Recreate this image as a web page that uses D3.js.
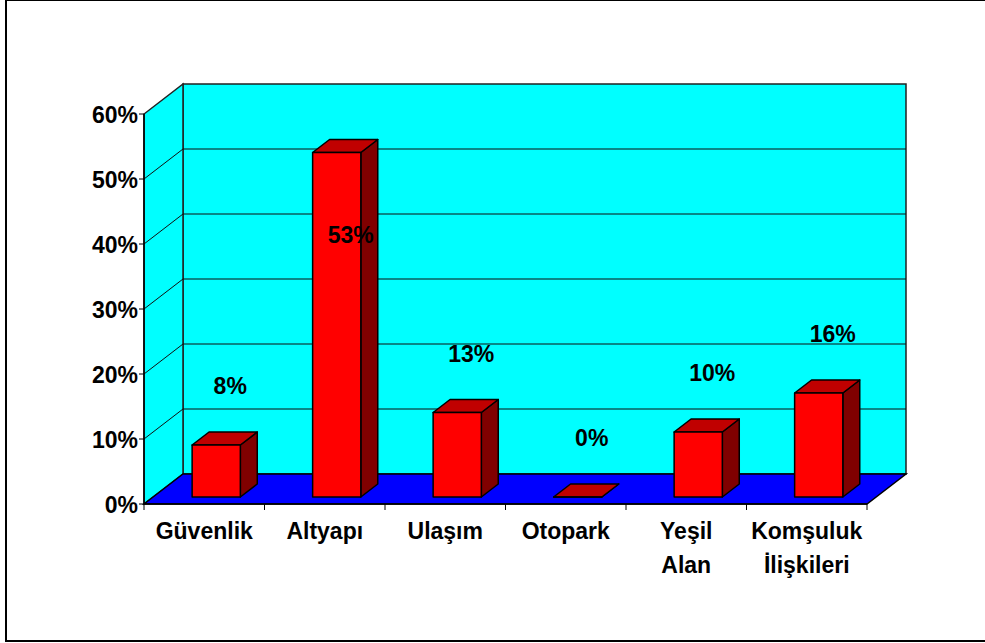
<!DOCTYPE html>
<html><head><meta charset="utf-8">
<script src="https://cdn.jsdelivr.net/npm/d3@7/dist/d3.min.js"></script>
<style>
html,body{margin:0;padding:0;background:#fff;}
svg{display:block;}
text{font-family:"Liberation Sans",Arial,sans-serif;font-weight:bold;fill:#000;}
</style></head>
<body>
<svg id="chart" width="985" height="643"></svg>
<script>
const categories = ["Güvenlik", "Altyapı", "Ulaşım", "Otopark", "Yeşil Alan", "Komşuluk İlişkileri"];
const categoryLines = [["Güvenlik"], ["Altyapı"], ["Ulaşım"], ["Otopark"], ["Yeşil", "Alan"], ["Komşuluk", "İlişkileri"]];
const values = [0.08, 0.53, 0.13, 0.00, 0.10, 0.16];
const valueLabels = ["8%", "53%", "13%", "0%", "10%", "16%"];
const yTicks = [0, 0.1, 0.2, 0.3, 0.4, 0.5, 0.6];

const svg = d3.select("#chart");

// outer frame
svg.append("rect").attr("x", 6).attr("y", 0).attr("width", 1000).attr("height", 641)
  .attr("fill", "none").attr("stroke", "#000").attr("stroke-width", 2);

const x0 = 144, x1 = 867;
const DX = 39, DY = 30; // full depth offset
const FS = 23;
const y = d3.scaleLinear().domain([0, 0.6]).range([504, 114]);
const xAxis = d3.scaleBand().domain(categories).range([x0, x1]).padding(0);
const xBar = d3.scaleBand().domain(categories).range([x0, x1])
  .paddingInner(0.6).paddingOuter(0.3).align(0.54);

const P = (x, v, d) => [x + d * DX, y(v) - d * DY];
const poly = pts => pts.map(p => p.join(",")).join(" ");

const g = svg.append("g");

// back wall
g.append("polygon")
  .attr("points", poly([P(x0, 0, 1), P(x1, 0, 1), P(x1, 0.6, 1), P(x0, 0.6, 1)]))
  .attr("fill", "#00FFFF").attr("stroke", "#222").attr("stroke-width", 1.5);
// side wall
g.append("polygon")
  .attr("points", poly([P(x0, 0, 0), P(x0, 0, 1), P(x0, 0.6, 1), P(x0, 0.6, 0)]))
  .attr("fill", "#00FFFF").attr("stroke", "#222").attr("stroke-width", 1.5);

// gridlines
const grid = yTicks.filter(t => t > 0 && t < 0.6);
g.selectAll("line.gb").data(grid).join("line")
  .attr("x1", t => P(x0, t, 1)[0]).attr("y1", t => P(x0, t, 1)[1])
  .attr("x2", t => P(x1, t, 1)[0]).attr("y2", t => P(x1, t, 1)[1])
  .attr("stroke", "#111").attr("stroke-width", 1.2);
g.selectAll("line.gs").data(grid).join("line")
  .attr("x1", t => P(x0, t, 0)[0]).attr("y1", t => P(x0, t, 0)[1])
  .attr("x2", t => P(x0, t, 1)[0]).attr("y2", t => P(x0, t, 1)[1])
  .attr("stroke", "#111").attr("stroke-width", 1);

// floor
g.append("polygon")
  .attr("points", poly([P(x0, 0, 0), P(x1, 0, 0), P(x1, 0, 1), P(x0, 0, 1)]))
  .attr("fill", "#0000FF").attr("stroke", "#000").attr("stroke-width", 1.5);

// axes
g.append("line").attr("x1", x0).attr("y1", y(0)).attr("x2", x0).attr("y2", y(0.6))
  .attr("stroke", "#000").attr("stroke-width", 1.5);
g.append("line").attr("x1", x0).attr("y1", y(0)).attr("x2", x1).attr("y2", y(0))
  .attr("stroke", "#000").attr("stroke-width", 1.5);

g.selectAll("line.yt").data(yTicks).join("line")
  .attr("x1", x0 - 5).attr("x2", x0).attr("y1", t => y(t)).attr("y2", t => y(t))
  .attr("stroke", "#000").attr("stroke-width", 1);
g.selectAll("text.yl").data(yTicks).join("text")
  .attr("x", x0 - 6).attr("y", t => y(t) + 9).attr("text-anchor", "end")
  .attr("font-size", FS).text(d3.format(".0%"));

const xTickPos = categories.map(c => xAxis(c)).concat([x1]);
g.selectAll("line.xt").data(xTickPos).join("line")
  .attr("x1", d => d).attr("x2", d => d).attr("y1", y(0)).attr("y2", y(0) + 6)
  .attr("stroke", "#000").attr("stroke-width", 1);

categories.forEach((c, i) => {
  const cx = xAxis(c) + xAxis.bandwidth() / 2;
  const t = g.append("text").attr("text-anchor", "middle").attr("font-size", FS)
    .attr("x", cx).attr("y", 539);
  categoryLines[i].forEach((ln, j) => {
    t.append("tspan").attr("x", cx).attr("dy", j === 0 ? 0 : 34).text(ln);
  });
});

// bars
const f0 = 0.233, f1 = 0.667;
categories.forEach((c, i) => {
  const v = values[i];
  const bx = xBar(c), bw = xBar.bandwidth();
  const bg = g.append("g").attr("stroke", "#000").attr("stroke-width", 1.5).attr("stroke-linejoin", "round");
  bg.append("polygon").attr("fill", "#800000")
    .attr("points", poly([P(bx + bw, 0, f0), P(bx + bw, 0, f1), P(bx + bw, v, f1), P(bx + bw, v, f0)]));
  bg.append("polygon").attr("fill", "#C00000")
    .attr("points", poly([P(bx, v, f0), P(bx + bw, v, f0), P(bx + bw, v, f1), P(bx, v, f1)]));
  bg.append("polygon").attr("fill", "#FF0000")
    .attr("points", poly([P(bx, 0, f0), P(bx + bw, 0, f0), P(bx + bw, v, f0), P(bx, v, f0)]));

  const topY = P(bx, v, f0)[1];
  let ly = topY - 51;
  if (ly - 22 < P(x0, 0.6, 1)[1]) ly = topY + 90;
  g.append("text").attr("text-anchor", "middle").attr("font-size", FS)
    .attr("x", P(bx + bw / 2, v, f0)[0] + 14).attr("y", ly).text(valueLabels[i]);
});
</script>
</body></html>
